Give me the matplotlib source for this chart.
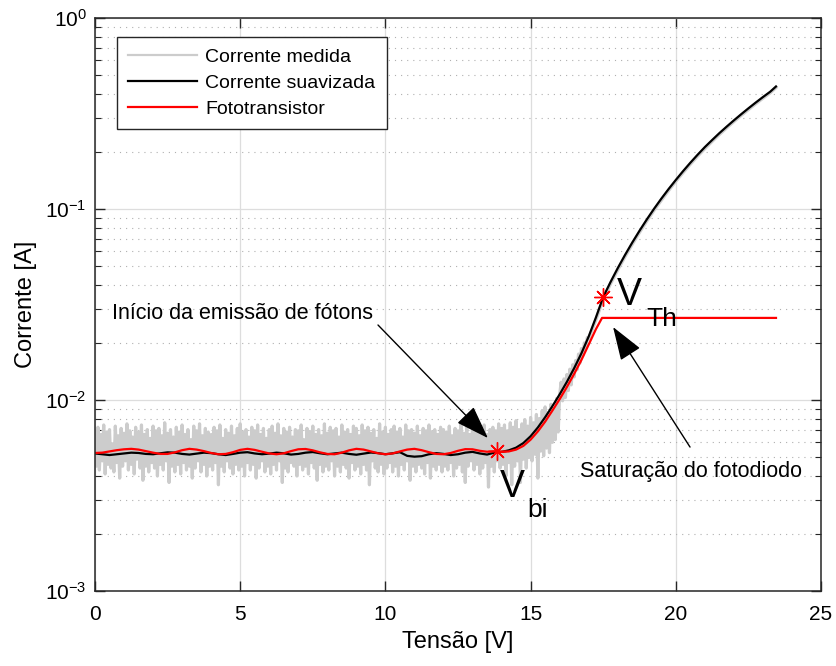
import numpy as np
import matplotlib
matplotlib.use('Agg')
import matplotlib.pyplot as plt

plt.rcParams['font.family'] = ['Liberation Sans', 'DejaVu Sans']
plt.rcParams['mathtext.fontset'] = 'custom'
plt.rcParams['mathtext.rm'] = 'Liberation Sans'

# Corrente medida (mA): varredura de 0 a 17 V em passos de 0,05 V
medida_ruido = [
    6.9, 4.5, 7.2, 4.3, 6.6, 4.8, 7.4, 4.1, 6.8, 4.6, 7.0, 4.4, 5.9, 4.2, 7.3, 4.7, 6.5, 3.9, 7.1, 4.5,
    6.7, 4.8, 7.5, 4.3, 6.9, 4.6, 6.4, 4.1, 7.2, 4.9, 6.8, 4.4, 7.4, 3.8, 6.6, 4.5, 7.0, 4.2, 6.3, 4.7,
    7.3, 4.4, 6.9, 4.0, 7.1, 4.6, 6.5, 4.3, 7.6, 4.8, 6.7, 3.7, 7.0, 4.5, 6.4, 4.2, 7.2, 4.6, 6.8, 4.1,
    7.4, 4.7, 6.6, 4.3, 7.0, 4.5, 6.2, 3.9, 7.3, 4.4, 6.9, 4.8, 7.5, 4.2, 6.5, 4.6, 7.1, 4.0, 6.8, 4.5,
    6.6, 4.3, 7.2, 4.7, 6.9, 3.6, 7.4, 4.5, 6.3, 4.2, 7.0, 4.8, 6.7, 4.4, 7.3, 4.1, 6.5, 4.6, 7.1, 4.3,
    7.5, 4.5, 6.8, 4.0, 7.0, 4.7, 6.4, 4.3, 7.2, 4.6, 6.9, 3.9, 7.4, 4.4, 6.6, 4.8, 7.1, 4.2, 6.3, 4.5,
    7.0, 4.1, 7.3, 4.6, 6.7, 4.3, 7.5, 4.8, 6.5, 3.7, 7.1, 4.4, 6.8, 4.2, 7.2, 4.7, 6.4, 4.5, 7.0, 4.0,
    6.9, 4.6, 7.4, 4.3, 6.2, 4.5, 7.1, 4.1, 6.8, 4.7, 7.3, 4.4, 6.6, 3.8, 7.0, 4.6, 6.5, 4.2, 7.5, 4.5,
    6.7, 4.3, 7.2, 4.8, 6.9, 4.0, 7.1, 4.5, 6.4, 4.2, 7.4, 4.6, 6.8, 4.4, 7.0, 3.9, 6.6, 4.7, 7.3, 4.3,
    7.1, 4.5, 6.5, 4.1, 7.4, 4.6, 6.9, 4.3, 7.2, 3.6, 6.7, 4.8, 7.0, 4.4, 6.3, 4.2, 7.5, 4.6, 6.8, 4.1,
    7.2, 4.4, 6.6, 4.7, 7.0, 4.2, 7.3, 4.5, 6.8, 4.0, 7.1, 4.6, 6.4, 4.3, 7.4, 4.8, 6.9, 3.8, 7.0, 4.5,
    6.7, 4.2, 7.3, 4.6, 6.5, 4.4, 7.1, 4.1, 6.9, 4.7, 7.4, 3.9, 6.8, 4.5, 7.0, 4.3, 6.6, 4.6, 7.2, 4.2,
    7.0, 4.5, 6.8, 4.3, 7.3, 4.7, 6.5, 4.0, 7.1, 4.4, 6.9, 4.6, 7.5, 4.2, 6.7, 3.7, 7.2, 4.5, 6.6, 4.8,
    7.3, 4.3, 6.9, 4.6, 7.1, 4.1, 6.8, 4.4, 7.4, 4.7, 6.6, 3.5, 7.0, 4.5, 7.2, 4.2, 6.9, 4.8, 7.5, 4.4,
    7.1, 4.6, 7.4, 4.0, 6.9, 4.7, 7.6, 3.6, 7.2, 4.5, 7.8, 4.8, 7.0, 3.7, 7.5, 4.9, 7.9, 4.4, 7.3, 5.0,
    8.1, 4.8, 7.6, 5.2, 8.4, 3.9, 8.0, 5.4, 8.8, 5.1, 9.2, 5.6, 8.6, 5.3, 9.5, 6.0, 9.0, 6.2, 10.2, 6.8,
    10.6, 12.4, 9.9, 12.9, 10.3, 13.6, 11.2, 14.5, 12.0, 15.3, 13.2, 16.1, 14.4, 17.4, 15.6, 18.6,
    17.1, 19.9, 18.8, 21.2, 20.9,
]
# Corrente medida (mA) na subida, de 17,25 a 23,45 V
tensao_subida = [17.25, 17.5, 17.75, 18.0, 18.25, 18.5, 18.75, 19.0, 19.25, 19.5, 19.75, 20.0,
                 20.25, 20.5, 20.75, 21.0, 21.25, 21.5, 21.75, 22.0, 22.25, 22.5, 22.75, 23.0,
                 23.25, 23.45]
medida_subida = [26.3, 33.7, 40.5, 47.9, 56.2, 65.3, 75.4, 86.4, 98.3, 111.0, 124.8, 139.5,
                 155.0, 171.5, 189.0, 207.0, 225.8, 245.5, 265.8, 286.8, 308.9, 331.6, 355.5,
                 380.0, 405.5, 432.0]

# Corrente suavizada (mA), passo de 0,25 V
suavizada = [
    5.25, 5.2, 5.15, 5.2, 5.25, 5.3, 5.28, 5.22, 5.2, 5.26, 5.32, 5.3, 5.22, 5.18, 5.24, 5.3,
    5.27, 5.2, 5.15, 5.22, 5.3, 5.33, 5.25, 5.2, 5.24, 5.3, 5.26, 5.18, 5.22, 5.3, 5.34, 5.26,
    5.2, 5.25, 5.3, 5.22, 5.17, 5.24, 5.31, 5.27, 5.2, 5.26, 5.33, 5.1, 5.05, 5.08, 5.2, 5.27,
    5.22, 5.15, 5.2, 5.3, 5.35, 5.25, 5.18, 5.3, 5.35, 5.45, 5.63, 5.95, 6.46, 7.18, 8.12, 9.28,
    10.7, 12.45, 14.67, 17.55, 21.5, 27.06, 34.6, 41.4, 49.0, 57.4, 66.7, 76.9, 88.1, 100.2,
    113.2, 127.1, 141.9, 157.8, 174.6, 192.3, 210.9, 229.6, 249.5, 269.8, 291.1, 313.3, 336.5,
    360.6, 385.5, 411.1, 438.0,
]

# Fototransistor (mA), passo de 0,25 V até a saturação
fototransistor = [
    5.28, 5.3, 5.38, 5.46, 5.52, 5.55, 5.5, 5.4, 5.3, 5.22, 5.22, 5.32, 5.46, 5.55, 5.5, 5.4,
    5.28, 5.2, 5.22, 5.33, 5.48, 5.55, 5.48, 5.36, 5.25, 5.2, 5.26, 5.4, 5.52, 5.54, 5.45, 5.32,
    5.22, 5.2, 5.3, 5.45, 5.55, 5.5, 5.38, 5.26, 5.2, 5.25, 5.38, 5.5, 5.55, 5.46, 5.33, 5.22,
    5.2, 5.28, 5.42, 5.53, 5.52, 5.42, 5.36, 5.39, 5.35, 5.38, 5.5, 5.75, 6.2, 6.85, 7.7, 8.8,
    10.1, 11.7, 13.7, 16.2, 19.5, 23.5,
]
tensao_sat = [17.46, 23.45]
corrente_sat = 26.9

# pontos marcados
v_bi, i_bi = 13.84, 5.4
v_th, i_th = 17.49, 34.6

v_ruido = np.linspace(0, 17.0, len(medida_ruido))
v_medida = np.concatenate([v_ruido, tensao_subida])
i_medida = np.concatenate([medida_ruido, medida_subida]) * 1e-3

v_suav = np.arange(len(suavizada) - 1) * 0.25
v_suav = np.append(v_suav, 23.45)
i_suav = np.array(suavizada) * 1e-3

v_foto = np.concatenate([np.arange(len(fototransistor)) * 0.25, tensao_sat])
i_foto = np.concatenate([fototransistor, [corrente_sat, corrente_sat]]) * 1e-3

fig = plt.figure(figsize=(8.36, 6.66), dpi=100)
ax = fig.add_axes([95 / 836, 1 - 591 / 666, 726 / 836, 573 / 666])

l1, = ax.plot(v_medida, i_medida, color='#cccccc', lw=2.3, label='Corrente medida')
l2, = ax.plot(v_suav, i_suav, color='k', lw=1.6, label='Corrente suavizada')
l3, = ax.plot(v_foto, i_foto, color='#ff0000', lw=1.6, label='Fototransistor')

ax.plot([v_bi, v_th], [i_bi * 1e-3, i_th * 1e-3], ls='none', marker=(8, 2, 0),
        color='#ff0000', ms=13, mew=1.0, zorder=5)

ax.set_yscale('log')
ax.set_xlim(0, 25)
ax.set_ylim(1e-3, 1)
ax.set_xticks([0, 5, 10, 15, 20, 25])
ax.set_yticks([1e-3, 1e-2, 1e-1, 1])
ax.set_yticklabels([r'$\mathregular{10^{-3}}$', r'$\mathregular{10^{-2}}$',
                    r'$\mathregular{10^{-1}}$', r'$\mathregular{10^{0}}$'])

ax.grid(True, which='major', color='#dddddd', lw=0.9, ls='-')
ax.grid(True, which='minor', axis='y', color='#b0b0b0', lw=0.8, ls=(0, (1, 4.5)))
ax.set_axisbelow(True)

for s in ax.spines.values():
    s.set_color('#262626')
    s.set_linewidth(1.1)
ax.tick_params(which='both', direction='in', top=True, right=True, color='#262626')
ax.tick_params(which='major', length=7, width=1.0, labelsize=15)
ax.tick_params(axis='x', which='major', pad=10)
ax.tick_params(axis='y', which='major', pad=6)
ax.tick_params(which='minor', length=4, width=0.8)

ax.set_xlabel('Tensão [V]', fontsize=17, labelpad=5)
ax.set_ylabel('Corrente [A]', fontsize=17, labelpad=6)

leg = ax.legend(handles=[l1, l2, l3], loc='upper left', bbox_to_anchor=(0.03, 0.967),
                borderaxespad=0, fontsize=14, fancybox=False, framealpha=1,
                edgecolor='#262626', handlelength=3.5, handletextpad=0.45,
                labelspacing=0.42, borderpad=0.6)
leg.get_frame().set_linewidth(1.0)
for h in leg.get_lines():
    h.set_linewidth(1.6)

# anotações
seta = dict(arrowstyle='-|>,head_length=0.75,head_width=0.26', color='k', lw=1.0,
            mutation_scale=28, shrinkA=0, shrinkB=0)
ax.text(0.585, 0.0285, 'Início da emissão de fótons', fontsize=15.5, va='center', ha='left')
ax.annotate('', xy=(13.53, 6.32e-3), xytext=(9.745, 0.0247), arrowprops=seta)
ax.text(16.7, 4.2e-3, 'Saturação do fotodiodo', fontsize=15.5, va='center', ha='left')
ax.annotate('', xy=(17.84, 0.0241), xytext=(20.49, 5.67e-3), arrowprops=seta)

ax.text(13.95, 3.1e-3, 'V', fontsize=27, va='baseline', ha='left')
ax.text(14.88, 2.44e-3, 'bi', fontsize=19, va='baseline', ha='left')
ax.text(17.98, 0.0314, 'V', fontsize=27, va='baseline', ha='left')
ax.text(19.0, 0.0244, 'Th', fontsize=19, va='baseline', ha='left')

fig.savefig('out.png', dpi=100)
plt.close(fig)
